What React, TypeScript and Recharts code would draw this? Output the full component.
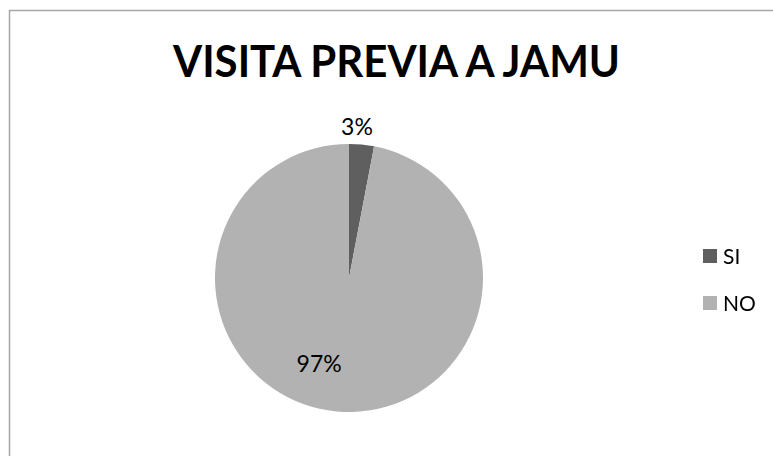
import { PieChart, Pie, Cell, Legend } from 'recharts';

const categories = ['SI', 'NO'];
const values = [3, 97];
const colors = ['#5f5f5f', '#b2b2b2'];
const title = 'VISITA PREVIA A JAMU';

const data = categories.map((name, i) => ({ name, value: values[i] }));

const RAD = Math.PI / 180;
const FONT = 'Lato, "Open Sans", sans-serif';

const renderLabel = (props: any) => {
  const { cx, cy, midAngle, outerRadius, percent } = props;
  const inside = percent > 0.5;
  // Excel drops the big slice label inside, a bit off the mid angle
  const angle = inside ? midAngle - 14 : midAngle + 2.4;
  const r = inside ? outerRadius * 0.67 : outerRadius + 18;
  const x = cx + r * Math.cos(-angle * RAD);
  const y = cy + r * Math.sin(-angle * RAD);
  return (
    <text
      x={x}
      y={y}
      fill="#000"
      textAnchor="middle"
      dominantBaseline="central"
      fontSize={23}
      fontFamily={FONT}
    >
      {`${Math.round(percent * 100)}%`}
    </text>
  );
};

// legend drawn in series order (recharts sorts by name otherwise)
const renderLegend = () => (
  <div style={{ fontFamily: FONT, fontSize: 21, color: '#000' }}>
    {categories.map((name, i) => (
      <div key={name} style={{ display: 'flex', alignItems: 'center', height: 47 }}>
        <span
          style={{
            display: 'inline-block',
            width: 14,
            height: 14,
            background: colors[i],
            marginRight: 6,
          }}
        />
        <span>{name}</span>
      </div>
    ))}
  </div>
);

export default function App() {
  return (
    <div style={{ position: 'fixed', left: 0, top: 0, width: 773, height: 456, background: '#fff' }}>
      <svg width={773} height={456} style={{ position: 'absolute', left: 0, top: 0 }}>
        <rect x={9.5} y={10.5} width={800} height={500} fill="#fff" stroke="#a6a6a6" strokeWidth={1.5} />
        <text
          x={396.5}
          y={77}
          textAnchor="middle"
          fontFamily={FONT}
          fontWeight="bold"
          fontSize={44}
          textLength={447}
          lengthAdjust="spacingAndGlyphs"
          fill="#000"
        >
          {title}
        </text>
      </svg>
      <div style={{ position: 'absolute', left: 0, top: 0 }}>
        <PieChart width={773} height={456} margin={{ top: 0, right: 0, bottom: 0, left: 0 }}>
          <Pie
            data={data}
            dataKey="value"
            nameKey="name"
            cx={349}
            cy={278}
            outerRadius={134}
            startAngle={90}
            endAngle={-270}
            stroke="none"
            label={renderLabel}
            labelLine={false}
            isAnimationActive={false}
          >
            {data.map((d, i) => (
              <Cell key={d.name} fill={colors[i]} />
            ))}
          </Pie>
          <Legend
            content={renderLegend}
            layout="vertical"
            wrapperStyle={{ left: 703, top: 232, width: 80 }}
          />
        </PieChart>
      </div>
    </div>
  );
}
